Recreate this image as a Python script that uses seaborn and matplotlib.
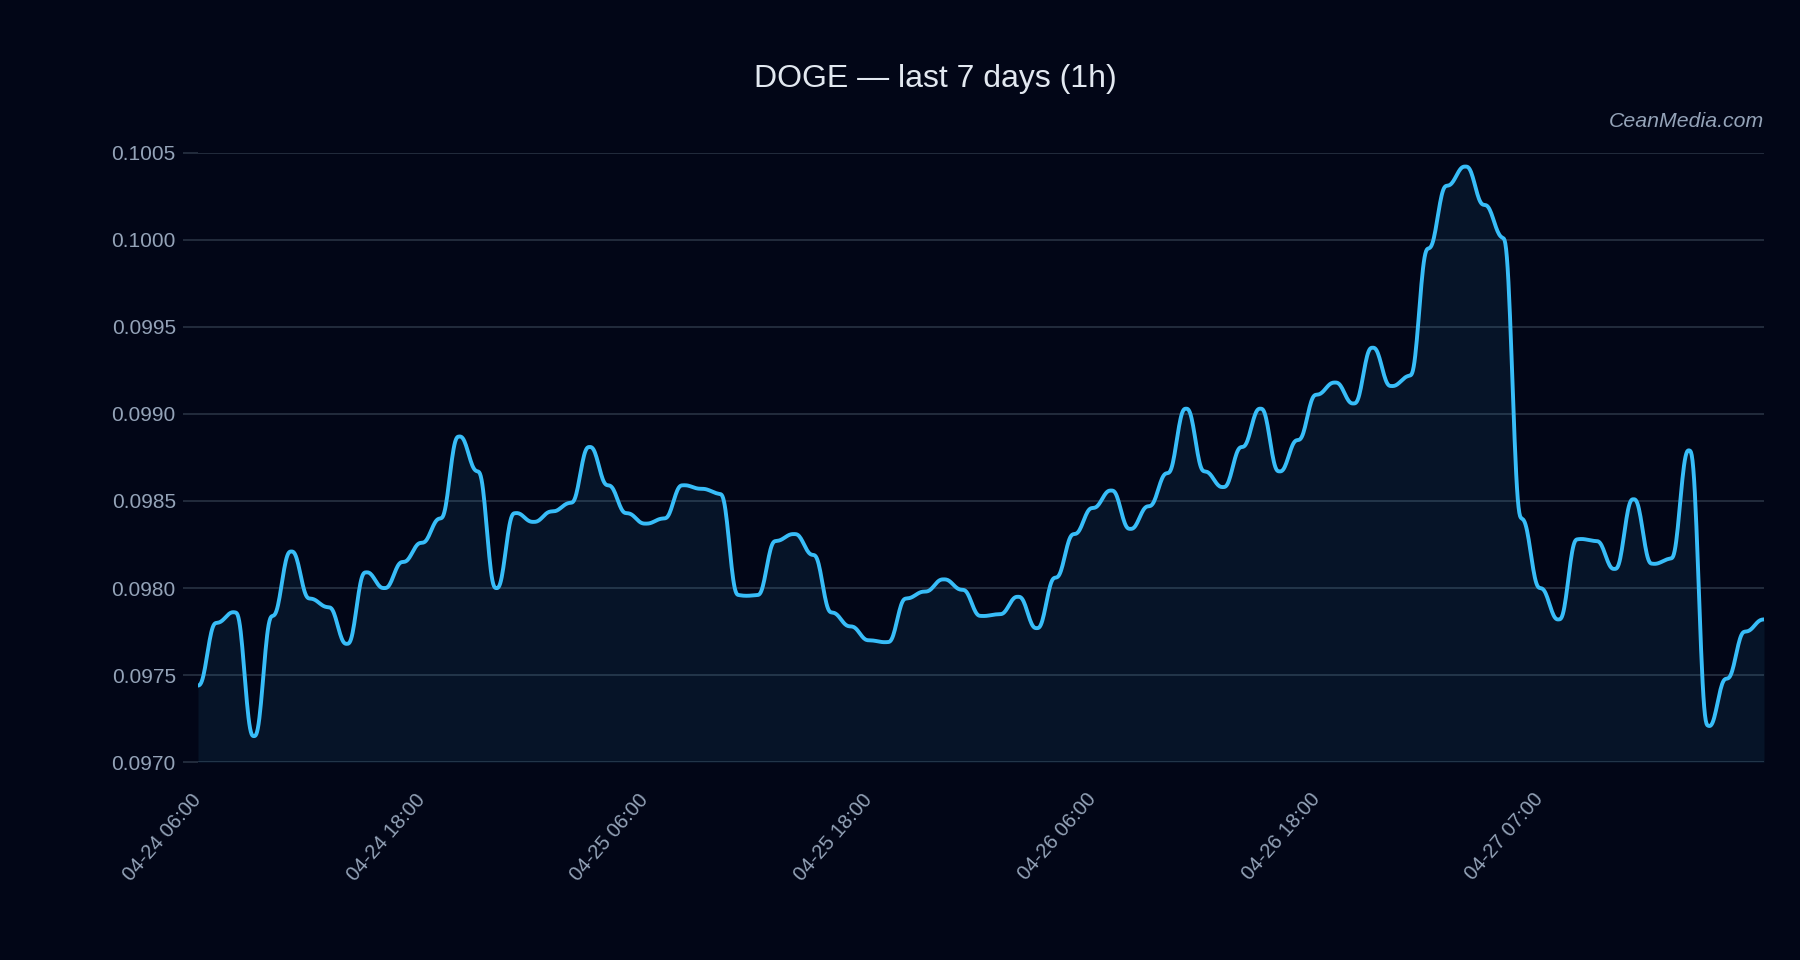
import numpy as np
import pandas as pd
import matplotlib
matplotlib.use("Agg")
import matplotlib.pyplot as plt
from matplotlib.ticker import MultipleLocator, FormatStrFormatter
from matplotlib.transforms import ScaledTranslation
import seaborn as sns

# hourly closing prices
prices = [
    0.09744, 0.09780, 0.09786, 0.09715, 0.09784, 0.09821, 0.09794, 0.09789,
    0.09768, 0.09809, 0.09800, 0.09815, 0.09826, 0.09840, 0.09887, 0.09867,
    0.09800, 0.09843, 0.09838, 0.09844, 0.09849, 0.09881, 0.09859, 0.09843,
    0.09837, 0.09840, 0.09859, 0.09857, 0.09854, 0.09796, 0.09796, 0.09827,
    0.09831, 0.09819, 0.09786, 0.09778, 0.09770, 0.09769, 0.09794, 0.09798,
    0.09805, 0.09799, 0.09784, 0.09785, 0.09795, 0.09777, 0.09806, 0.09831,
    0.09846, 0.09856, 0.09834, 0.09847, 0.09866, 0.09903, 0.09867, 0.09858,
    0.09881, 0.09903, 0.09867, 0.09885, 0.09911, 0.09918, 0.09906, 0.09938,
    0.09916, 0.09922, 0.09995, 0.10031, 0.10042, 0.10020, 0.10001, 0.09840,
    0.09800, 0.09782, 0.09828, 0.09827, 0.09811, 0.09851, 0.09814, 0.09817,
    0.09879, 0.09721, 0.09748, 0.09775, 0.09782,
]
tick_labels = ["04-24 06:00", "04-24 18:00", "04-25 06:00", "04-25 18:00",
               "04-26 06:00", "04-26 18:00", "04-27 07:00"]
tick_every = 12
y_min, y_max = 0.0970, 0.1005

BG = "#020617"
LINE = "#38bdf8"
GRID = "#2b3547"
MUTED = "#94a3b8"


def smooth_curve(y, n=24, c=0.06):
    # quintic hermite between hourly points -> the soft "stepped" look
    y = np.asarray(y, dtype=float)
    m = np.gradient(y) * c
    t = np.linspace(0, 1, n, endpoint=False)
    h1 = 10 * t**3 - 15 * t**4 + 6 * t**5
    g0 = t - 6 * t**3 + 8 * t**4 - 3 * t**5
    g1 = -4 * t**3 + 7 * t**4 - 3 * t**5
    xs, ys = [], []
    for i in range(len(y) - 1):
        xs.append(i + t)
        ys.append(y[i] + (y[i + 1] - y[i]) * h1 + m[i] * g0 + m[i + 1] * g1)
    xs.append([len(y) - 1])
    ys.append([y[-1]])
    return np.concatenate(xs), np.concatenate(ys)


sns.set_theme(style="dark")
plt.rcParams["font.family"] = ["Liberation Sans", "DejaVu Sans"]

xs, ys = smooth_curve(prices)
curve = pd.DataFrame({"hour": xs, "price": ys})

fig = plt.figure(figsize=(18, 9.6), dpi=100, facecolor=BG)
ax = fig.add_axes([0.110, 0.206, 0.870, 0.635])
ax.set_facecolor(BG)

ax.fill_between(xs, ys, y_min, color=LINE, alpha=0.08, linewidth=0)
sns.lineplot(data=curve, x="hour", y="price", ax=ax, color=LINE,
             linewidth=2.8, estimator=None, sort=False)

ax.set_xlim(0, len(prices) - 1)
ax.set_ylim(y_min, y_max)
ax.yaxis.set_major_locator(MultipleLocator(0.0005))
ax.yaxis.set_major_formatter(FormatStrFormatter("%.4f"))
ax.set_xticks([i * tick_every for i in range(len(tick_labels))])
ax.set_xticklabels(tick_labels, rotation=49, ha="right")

ax.grid(axis="y", color=GRID, linewidth=1.1)
ax.grid(axis="x", visible=False)
ax.set_axisbelow(True)
for s in ax.spines.values():
    s.set_visible(False)
ax.tick_params(axis="y", colors=GRID, labelcolor=MUTED, labelsize=15,
               length=11, width=1.1, pad=5, left=True)
ax.tick_params(axis="x", labelcolor=MUTED, labelsize=14.6, length=0, pad=20)
# nudge rotated labels so their ends sit just right of the tick
shift = ScaledTranslation(7 / 100, 0, fig.dpi_scale_trans)
for lab in ax.get_xticklabels():
    lab.set_transform(lab.get_transform() + shift)
ax.set_xlabel("")
ax.set_ylabel("")

fig.text(0.5195, 0.918, "DOGE \u2014 last 7 days (1h)", ha="center",
         va="center", color="#e2e8f0", fontsize=23)
fig.text(0.98, 0.8735, "CeanMedia.com", ha="right", va="center",
         color=MUTED, fontsize=15.3, style="italic")

fig.savefig("out.png", dpi=100, facecolor=BG)
